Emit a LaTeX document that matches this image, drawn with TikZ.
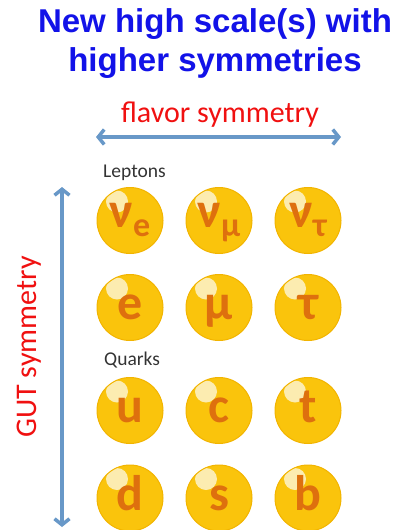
\documentclass[tikz,border=0pt]{standalone}
\usepackage{fontspec}
\setmainfont{Carlito}
\newfontfamily\titelschrift{Liberation Sans}
\usetikzlibrary{
	arrows.meta,
	positioning
}
\definecolor{titelblau}{RGB}{18,18,232}
\definecolor{symrot}{RGB}{240,16,16}
\definecolor{pfeilblau}{RGB}{104,152,200}
\definecolor{kugelgelb}{RGB}{250,196,12}
\definecolor{kugelrand}{RGB}{242,180,0}
\definecolor{glanz}{RGB}{252,236,176}
\definecolor{buchstabe}{RGB}{222,112,14}
\newcommand{\nuteil}{\raisebox{5pt}{ν}}
\newcommand{\tiefsub}[1]{\raisebox{-4pt}{\fontsize{34}{34}\selectfont #1}}

\begin{document}
\begin{tikzpicture}[
  x=1pt, y=-1pt,
  titel/.style={align=center, text=titelblau,
    font=\titelschrift\bfseries\fontsize{33}{39}\selectfont},
  symtext/.style={text=symrot, font=\fontsize{30}{34}\selectfont},
  gruppe/.style={text=black!80, font=\fontsize{19.5}{22}\selectfont, inner sep=0pt},
  kugel/.style={circle, fill=kugelgelb, draw=kugelrand, line width=1pt,
    minimum size=66pt, inner sep=0pt, text=buchstabe,
    text height=24pt, text depth=0pt,
    font=\bfseries\fontsize{50}{50}\selectfont,
    path picture={\fill[glanz] ([xshift=-13pt,yshift=19pt]path picture bounding box.center) circle (11pt);}},
  pfeil/.style={{Straight Barb[length=6pt,width=15pt]}-{Straight Barb[length=6pt,width=15pt]},
    draw=pfeilblau, line width=3.5pt}
]
\useasboundingbox (0,0) rectangle (412,530);
\node[titel] (titel) at (215,44) {New high scale(s) with\\higher symmetries};
\node[symtext] (flavor) at (220,115) {flavor symmetry};
\coordinate (hlinks) at (96,137);
\coordinate (hrechts) at (341,137);
\draw[pfeil] (hlinks) -- (hrechts);
\node[symtext, rotate=90] (gut) at (29,347) {GUT symmetry};
\coordinate (voben) at (62,187);
\coordinate (vunten) at (62,527);
\draw[pfeil] (voben) -- (vunten);
% Leptonen
\node[gruppe, anchor=base west] (leptonen) at (103,177) {Leptons};
\node[kugel] (nue) at (130,220.5) {\nuteil\tiefsub{e}};
\node[kugel, right=22pt of nue] (numu) {\nuteil\tiefsub{μ}};
\node[kugel, right=22pt of numu] (nutau) {\nuteil\tiefsub{τ}};
\node[kugel, below=20pt of nue] (el) {e};
\node[kugel, right=22pt of el] (mu) {μ};
\node[kugel, right=22pt of mu] (tau) {τ};
% Quarks
\node[gruppe, anchor=base west] (quarks) at (104,365) {Quarks};
\node[kugel, below=36pt of el] (up) {u};
\node[kugel, right=22pt of up] (charm) {c};
\node[kugel, right=22pt of charm] (top) {t};
\node[kugel, below=20.5pt of up] (down) {d};
\node[kugel, right=22pt of down] (strange) {s};
\node[kugel, right=22pt of strange] (bottom) {b};
\end{tikzpicture}
\end{document}
